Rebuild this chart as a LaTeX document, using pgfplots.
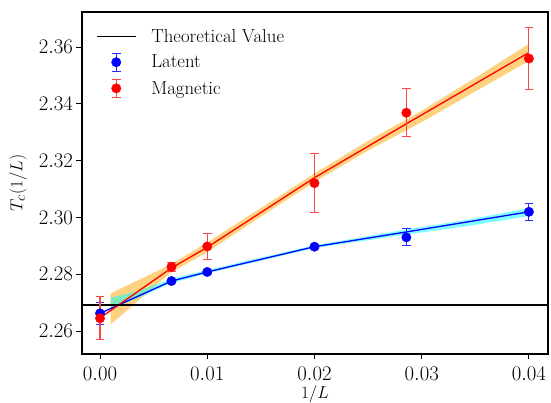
\documentclass[border=0pt]{standalone}
\usepackage{pgfplots}
\pgfplotsset{compat=1.18}
\definecolor{mplorange}{RGB}{255,165,0}
\definecolor{mplcyan}{RGB}{0,255,255}
\definecolor{errred}{RGB}{255,70,70}
\definecolor{errblue}{RGB}{40,40,255}
\begin{document}
\begin{tikzpicture}
\begin{axis}[
  at={(0,0)}, anchor=south west,
  scale only axis, width=466pt, height=342pt,
  xmin=-0.00168, xmax=0.04178, ymin=2.2519, ymax=2.3724,
  scaled x ticks=false, scaled y ticks=false,
  xtick={0,0.01,0.02,0.03,0.04},
  xticklabels={$0.00$,$0.01$,$0.02$,$0.03$,$0.04$},
  ytick={2.26,2.28,2.30,2.32,2.34,2.36},
  yticklabels={$2.26$,$2.28$,$2.30$,$2.32$,$2.34$,$2.36$},
  tick align=outside, xtick pos=left, ytick pos=left,
  major tick length=5.5pt,
  tick style={black, line width=1pt},
  axis line style={line width=1.4pt},
  tick label style={font=\fontsize{22.5}{26}\selectfont},
  x tick label style={yshift=-4pt},
  xlabel={$1/L$}, ylabel={$T_c(1/L)$},
  label style={font=\fontsize{19}{22}\selectfont},
  xlabel style={at={(axis description cs:0.5,-0.118)}, anchor=center},
  ylabel style={at={(axis description cs:-0.1373,0.5)}, anchor=center},
  legend cell align=left,
  legend style={draw=none, fill=none, at={(axis description cs:0,1)}, anchor=north west,
    xshift=11pt, yshift=-13.5pt, font=\fontsize{18.8}{22}\selectfont,
    row sep=7pt, nodes={inner sep=0pt},
    /tikz/every odd column/.append style={column sep=15pt}},
]
% orange band (magnetic fit)
\addplot[draw=none, fill=mplorange, fill opacity=0.5, forget plot] coordinates {
(0.001,2.2733)(0.0035,2.2778)(0.0066,2.2834)(0.01,2.2912)(0.015,2.3033)(0.02,2.3155)(0.025,2.3270)(0.03,2.3376)(0.035,2.3492)(0.04,2.3612)
(0.04,2.3552)(0.035,2.3444)(0.03,2.3336)(0.025,2.3236)(0.02,2.3125)(0.015,2.3003)(0.01,2.2878)(0.0066,2.2806)(0.0035,2.2705)(0.001,2.2623)} -- cycle;
% cyan band (latent fit)
\addplot[draw=none, fill=mplcyan, fill opacity=0.5, forget plot] coordinates {
(0.001,2.2718)(0.0035,2.2740)(0.0066,2.2784)(0.01,2.2815)(0.02,2.2902)(0.0286,2.2958)(0.034,2.2990)(0.04,2.3033)
(0.04,2.3005)(0.034,2.2968)(0.0286,2.2940)(0.02,2.2892)(0.01,2.2803)(0.0066,2.2768)(0.0035,2.2715)(0.001,2.2680)} -- cycle;
% fit lines
\addplot[blue, line width=1.3pt, forget plot] coordinates {
(0,2.2662)(0.006667,2.2776)(0.01,2.2808)(0.02,2.2897)(0.028571,2.2949)(0.04,2.3020)};
\addplot[red, line width=1.3pt, forget plot] coordinates {
(0,2.2646)(0.006667,2.2822)(0.01,2.2895)(0.02,2.3140)(0.028571,2.3330)(0.04,2.3581)};
% theoretical value
\addplot[black, line width=1.1pt,
  legend image code/.code={\path[draw=none] (0pt,-9pt) -- (0pt,9pt); \draw[black, line width=1.1pt] (0pt,0pt) -- (39pt,0pt);}]
  coordinates {(-0.00168,2.26918)(0.04178,2.26918)};
\addlegendentry{Theoretical Value}
% latent
\addplot[only marks, mark=*, color=blue, mark size=4.7pt, mark options={fill=blue, draw=blue},
  legend image code/.code={
  \draw[errblue, line width=1.1pt] (19.5pt,-9pt) -- (19.5pt,9pt)
    (15.2pt,-9pt) -- (23.8pt,-9pt) (15.2pt,9pt) -- (23.8pt,9pt);
  \fill[blue] (19.5pt,0pt) circle (4.7pt);},
  error bars/.cd, y dir=both, y explicit,
  error bar style={errblue, line width=1.1pt},
  error mark options={rotate=90, mark size=4.3pt, line width=1.1pt, errblue}]
  coordinates {
  (0,2.2662) +- (0,0.0039)
  (0.006667,2.2776) +- (0,0.0006)
  (0.01,2.2808) +- (0,0.0006)
  (0.02,2.2897) +- (0,0.0005)
  (0.028571,2.2930) +- (0,0.0030)
  (0.04,2.3020) +- (0,0.0030)};
\addlegendentry{Latent}
% magnetic
\addplot[only marks, mark=*, color=red, mark size=4.7pt, mark options={fill=red, draw=red},
  legend image code/.code={
  \draw[errred, line width=1.1pt] (19.5pt,-9pt) -- (19.5pt,9pt)
    (15.2pt,-9pt) -- (23.8pt,-9pt) (15.2pt,9pt) -- (23.8pt,9pt);
  \fill[red] (19.5pt,0pt) circle (4.7pt);},
  error bars/.cd, y dir=both, y explicit,
  error bar style={errred, line width=1.1pt},
  error mark options={rotate=90, mark size=4.3pt, line width=1.1pt, errred}]
  coordinates {
  (0,2.2645) +- (0,0.0076)
  (0.006667,2.2826) +- (0,0.0015)
  (0.01,2.2898) +- (0,0.0045)
  (0.02,2.3121) +- (0,0.0104)
  (0.028571,2.3369) +- (0,0.0085)
  (0.04,2.3560) +- (0,0.0109)};
\addlegendentry{Magnetic}
\end{axis}
\pgfresetboundingbox
\path (-82pt,-49pt) rectangle (469pt,354pt);
\end{tikzpicture}
\end{document}
